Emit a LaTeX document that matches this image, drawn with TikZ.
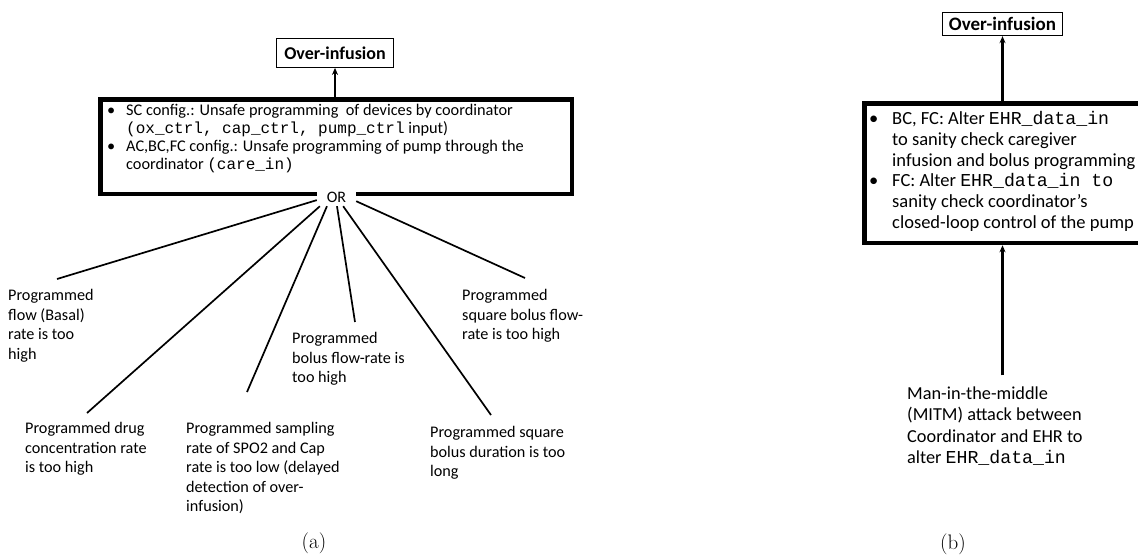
\documentclass[tikz,border=0pt]{standalone}
\usepackage{fontspec}
\setmonofont{Liberation Mono}
\newfontfamily\calfont{Carlito}
\usetikzlibrary{arrows.meta}

% multi-line text block: rows with struts, so the block's top sits 0.7\baselineskip above the first baseline
\newcommand{\lines}[1]{{\renewcommand{\arraystretch}{1}\begin{tabular}{@{}l@{}}#1\end{tabular}}}
\newcommand{\blist}[2]{{\renewcommand{\arraystretch}{1}\begin{tabular}{@{}p{#1}@{}l@{}}#2\end{tabular}}}
\newcommand{\mono}[1]{{\ttfamily\fontsize{16}{18}\selectfont #1}}
\newcommand{\monob}[1]{{\ttfamily\fontsize{18.2}{20.8}\selectfont #1}}

\tikzset{
  leaf/.style={anchor=north west, inner sep=0pt, font=\calfont\fontsize{16.2}{19.5}\selectfont},
  topbox/.style={draw, line width=0.8pt, inner sep=0pt, font=\calfont\bfseries\fontsize{18}{20}\selectfont},
  gatebox/.style={draw, line width=4.5pt, inner sep=0pt},
  branch/.style={line width=1.7pt},
  uparrow/.style={line width=2.2pt, -{Stealth[length=7pt,width=6pt]}},
  caption/.style={font=\fontsize{21}{24}\selectfont}
}

\begin{document}
\begin{tikzpicture}[x=1pt,y=-1pt]
\clip (0,0) rectangle (1138,558);

% ---------- (a) OR-tree of unsafe programming ----------
\node[topbox, minimum width=117pt, minimum height=29pt] (topA) at (335,53) {Over-infusion};
\node[gatebox, anchor=north west, minimum width=471.5pt, minimum height=94.5pt] (gateA) at (98.25,97.25) {};
\node[anchor=north west, inner sep=0pt, font=\calfont\fontsize{16.3}{18}\selectfont] (gateAtext) at (107,103) {\blist{19pt}{
  \textbullet & SC config.: Unsafe programming\ \ of devices by coordinator\\
   & \mono{(ox\_ctrl, cap\_ctrl, pump\_ctrl} input)\\
  \textbullet & AC,BC,FC config.: Unsafe programming of pump through the\\
   & coordinator \mono{(care\_in)}}};
\draw[uparrow] (topA.south |- gateA.north) -- (topA.south);

% OR gate label sitting on the bottom edge of the box
\node[fill=white, inner sep=0pt, minimum height=18pt, minimum width=39pt,
      font=\calfont\fontsize{16}{19}\selectfont] (or) at (336.5,197) {OR};

% leaves
\node[leaf] (l1) at (8,287)   {\lines{Programmed\\flow (Basal)\\rate is too\\high}};
\node[leaf] (l2) at (25,420)  {\lines{Programmed drug\\concentration rate\\is too high}};
\node[leaf] (l3) at (186,420) {\lines{Programmed sampling\\rate of SPO2 and Cap\\rate is too low (delayed\\detection of over-\\infusion)}};
\node[leaf] (l4) at (292,330) {\lines{Programmed\\bolus flow-rate is\\too high}};
\node[leaf] (l5) at (430,424) {\lines{Programmed square\\bolus duration is too\\long}};
\node[leaf] (l6) at (462,287) {\lines{Programmed\\square bolus flow-\\rate is too high}};

\coordinate (e1) at (57,279);
\coordinate (e2) at (87,413);
\coordinate (e3) at (247,392);
\coordinate (e4) at (355,322);
\coordinate (e5) at (491,415);
\coordinate (e6) at (525,278);

\draw[branch] (or.189) -- (e1);
\draw[branch] (or.209) -- (e2);
\draw[branch] (or.224) -- (e3);
\draw[branch] (or.273) -- (e4);
\draw[branch] (or.306) -- (e5);
\draw[branch] (or.348) -- (e6);

\node[caption] (capA) at (314,543) {(a)};

% ---------- (b) man-in-the-middle on EHR data ----------
\node[topbox, font=\calfont\bfseries\fontsize{19}{21}\selectfont, minimum width=120pt, minimum height=23.5pt] (topB) at (1002.5,24) {Over-infusion};
\node[gatebox, anchor=north west, minimum width=280pt, minimum height=139.5pt] (gateB) at (862.25,101.25) {};
\node[anchor=north west, inner sep=0pt, font=\calfont\fontsize{18.5}{20.8}\selectfont] (gateBtext) at (869,109.8) {\blist{23pt}{
  \textbullet & BC, FC: Alter \monob{EHR\_data\_in}\\
   & to sanity check caregiver\\
   & infusion and bolus programming\\
  \textbullet & FC: Alter \monob{EHR\_data\_in\ to}\\
   & sanity check coordinator’s\\
   & closed-loop control of the pump}};
\draw[uparrow] (topB.south |- gateB.north) -- (topB.south);

\node[leaf, font=\calfont\fontsize{18.3}{21.5}\selectfont, outer ysep=9pt] (mitm) at (907,375.3)
  {\lines{Man-in-the-middle\\(MITM) attack between\\Coordinator and EHR to\\alter \monob{EHR\_data\_in}}};
\draw[uparrow] (topB.south |- mitm.north) -- (topB.south |- gateB.south);

\node[caption] (capB) at (953,544) {(b)};
\end{tikzpicture}
\end{document}
